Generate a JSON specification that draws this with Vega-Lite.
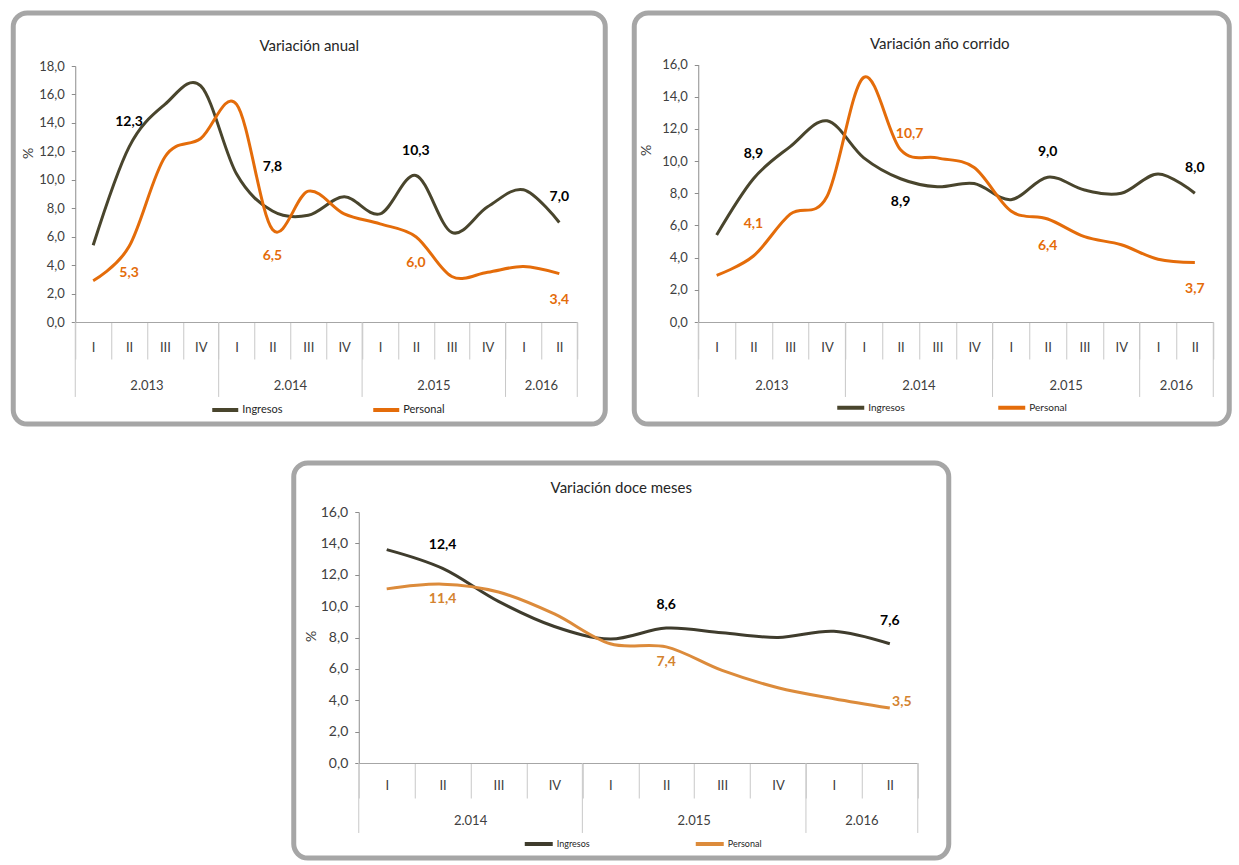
{
  "$schema": "https://vega.github.io/schema/vega-lite/v6.json",
  "background": "white",
  "padding": {"left": 10, "top": 10, "right": 5, "bottom": 5},
  "config": {
    "font": "Lato",
    "locale": {"number": {"decimal": ",", "thousands": ".", "grouping": [3], "currency": ["$", ""]}},
    "view": {"fill": null, "stroke": "#a6a6a6", "strokeWidth": 5, "cornerRadius": 14},
    "axis": {"grid": false, "zindex": 1, "domainColor": "#8c8c8c", "tickColor": "#8c8c8c", "labelFont": "Lato", "labelColor": "#404040", "titleFont": "Lato", "titleColor": "#404040"},
    "legend": {"padding": 0, "labelFont": "Lato", "labelColor": "#262626"},
    "title": {"font": "Lato", "color": "#262626", "fontWeight": "normal"}
  },
  "datasets": {
    "anual": [
      {"serie": "Ingresos", "periodo": "2013-I", "anio": "2.013", "trimestre": "I", "valor": 5.4},
      {"serie": "Ingresos", "periodo": "2013-II", "anio": "2.013", "trimestre": "II", "valor": 12.3},
      {"serie": "Ingresos", "periodo": "2013-III", "anio": "2.013", "trimestre": "III", "valor": 15.3},
      {"serie": "Ingresos", "periodo": "2013-IV", "anio": "2.013", "trimestre": "IV", "valor": 16.6},
      {"serie": "Ingresos", "periodo": "2014-I", "anio": "2.014", "trimestre": "I", "valor": 10.4},
      {"serie": "Ingresos", "periodo": "2014-II", "anio": "2.014", "trimestre": "II", "valor": 7.8},
      {"serie": "Ingresos", "periodo": "2014-III", "anio": "2.014", "trimestre": "III", "valor": 7.5},
      {"serie": "Ingresos", "periodo": "2014-IV", "anio": "2.014", "trimestre": "IV", "valor": 8.8},
      {"serie": "Ingresos", "periodo": "2015-I", "anio": "2.015", "trimestre": "I", "valor": 7.6},
      {"serie": "Ingresos", "periodo": "2015-II", "anio": "2.015", "trimestre": "II", "valor": 10.3},
      {"serie": "Ingresos", "periodo": "2015-III", "anio": "2.015", "trimestre": "III", "valor": 6.3},
      {"serie": "Ingresos", "periodo": "2015-IV", "anio": "2.015", "trimestre": "IV", "valor": 8.1},
      {"serie": "Ingresos", "periodo": "2016-I", "anio": "2.016", "trimestre": "I", "valor": 9.3},
      {"serie": "Ingresos", "periodo": "2016-II", "anio": "2.016", "trimestre": "II", "valor": 7.0},
      {"serie": "Personal", "periodo": "2013-I", "anio": "2.013", "trimestre": "I", "valor": 2.9},
      {"serie": "Personal", "periodo": "2013-II", "anio": "2.013", "trimestre": "II", "valor": 5.3},
      {"serie": "Personal", "periodo": "2013-III", "anio": "2.013", "trimestre": "III", "valor": 11.6},
      {"serie": "Personal", "periodo": "2013-IV", "anio": "2.013", "trimestre": "IV", "valor": 12.9},
      {"serie": "Personal", "periodo": "2014-I", "anio": "2.014", "trimestre": "I", "valor": 15.3},
      {"serie": "Personal", "periodo": "2014-II", "anio": "2.014", "trimestre": "II", "valor": 6.5},
      {"serie": "Personal", "periodo": "2014-III", "anio": "2.014", "trimestre": "III", "valor": 9.2},
      {"serie": "Personal", "periodo": "2014-IV", "anio": "2.014", "trimestre": "IV", "valor": 7.6},
      {"serie": "Personal", "periodo": "2015-I", "anio": "2.015", "trimestre": "I", "valor": 6.9},
      {"serie": "Personal", "periodo": "2015-II", "anio": "2.015", "trimestre": "II", "valor": 6.0},
      {"serie": "Personal", "periodo": "2015-III", "anio": "2.015", "trimestre": "III", "valor": 3.2},
      {"serie": "Personal", "periodo": "2015-IV", "anio": "2.015", "trimestre": "IV", "valor": 3.5},
      {"serie": "Personal", "periodo": "2016-I", "anio": "2.016", "trimestre": "I", "valor": 3.9},
      {"serie": "Personal", "periodo": "2016-II", "anio": "2.016", "trimestre": "II", "valor": 3.4}
    ],
    "corrido": [
      {"serie": "Ingresos", "periodo": "2013-I", "anio": "2.013", "trimestre": "I", "valor": 5.4},
      {"serie": "Ingresos", "periodo": "2013-II", "anio": "2.013", "trimestre": "II", "valor": 8.9},
      {"serie": "Ingresos", "periodo": "2013-III", "anio": "2.013", "trimestre": "III", "valor": 10.9},
      {"serie": "Ingresos", "periodo": "2013-IV", "anio": "2.013", "trimestre": "IV", "valor": 12.5},
      {"serie": "Ingresos", "periodo": "2014-I", "anio": "2.014", "trimestre": "I", "valor": 10.2},
      {"serie": "Ingresos", "periodo": "2014-II", "anio": "2.014", "trimestre": "II", "valor": 8.9},
      {"serie": "Ingresos", "periodo": "2014-III", "anio": "2.014", "trimestre": "III", "valor": 8.4},
      {"serie": "Ingresos", "periodo": "2014-IV", "anio": "2.014", "trimestre": "IV", "valor": 8.6},
      {"serie": "Ingresos", "periodo": "2015-I", "anio": "2.015", "trimestre": "I", "valor": 7.6},
      {"serie": "Ingresos", "periodo": "2015-II", "anio": "2.015", "trimestre": "II", "valor": 9.0},
      {"serie": "Ingresos", "periodo": "2015-III", "anio": "2.015", "trimestre": "III", "valor": 8.2},
      {"serie": "Ingresos", "periodo": "2015-IV", "anio": "2.015", "trimestre": "IV", "valor": 8.0},
      {"serie": "Ingresos", "periodo": "2016-I", "anio": "2.016", "trimestre": "I", "valor": 9.2},
      {"serie": "Ingresos", "periodo": "2016-II", "anio": "2.016", "trimestre": "II", "valor": 8.0},
      {"serie": "Personal", "periodo": "2013-I", "anio": "2.013", "trimestre": "I", "valor": 2.9},
      {"serie": "Personal", "periodo": "2013-II", "anio": "2.013", "trimestre": "II", "valor": 4.1},
      {"serie": "Personal", "periodo": "2013-III", "anio": "2.013", "trimestre": "III", "valor": 6.7},
      {"serie": "Personal", "periodo": "2013-IV", "anio": "2.013", "trimestre": "IV", "valor": 7.8},
      {"serie": "Personal", "periodo": "2014-I", "anio": "2.014", "trimestre": "I", "valor": 15.2},
      {"serie": "Personal", "periodo": "2014-II", "anio": "2.014", "trimestre": "II", "valor": 10.7},
      {"serie": "Personal", "periodo": "2014-III", "anio": "2.014", "trimestre": "III", "valor": 10.2},
      {"serie": "Personal", "periodo": "2014-IV", "anio": "2.014", "trimestre": "IV", "valor": 9.6},
      {"serie": "Personal", "periodo": "2015-I", "anio": "2.015", "trimestre": "I", "valor": 6.9},
      {"serie": "Personal", "periodo": "2015-II", "anio": "2.015", "trimestre": "II", "valor": 6.4},
      {"serie": "Personal", "periodo": "2015-III", "anio": "2.015", "trimestre": "III", "valor": 5.3},
      {"serie": "Personal", "periodo": "2015-IV", "anio": "2.015", "trimestre": "IV", "valor": 4.8},
      {"serie": "Personal", "periodo": "2016-I", "anio": "2.016", "trimestre": "I", "valor": 3.9},
      {"serie": "Personal", "periodo": "2016-II", "anio": "2.016", "trimestre": "II", "valor": 3.7}
    ],
    "doce": [
      {"serie": "Ingresos", "periodo": "2014-I", "anio": "2.014", "trimestre": "I", "valor": 13.6},
      {"serie": "Ingresos", "periodo": "2014-II", "anio": "2.014", "trimestre": "II", "valor": 12.4},
      {"serie": "Ingresos", "periodo": "2014-III", "anio": "2.014", "trimestre": "III", "valor": 10.3},
      {"serie": "Ingresos", "periodo": "2014-IV", "anio": "2.014", "trimestre": "IV", "valor": 8.7},
      {"serie": "Ingresos", "periodo": "2015-I", "anio": "2.015", "trimestre": "I", "valor": 7.9},
      {"serie": "Ingresos", "periodo": "2015-II", "anio": "2.015", "trimestre": "II", "valor": 8.6},
      {"serie": "Ingresos", "periodo": "2015-III", "anio": "2.015", "trimestre": "III", "valor": 8.3},
      {"serie": "Ingresos", "periodo": "2015-IV", "anio": "2.015", "trimestre": "IV", "valor": 8.0},
      {"serie": "Ingresos", "periodo": "2016-I", "anio": "2.016", "trimestre": "I", "valor": 8.4},
      {"serie": "Ingresos", "periodo": "2016-II", "anio": "2.016", "trimestre": "II", "valor": 7.6},
      {"serie": "Personal", "periodo": "2014-I", "anio": "2.014", "trimestre": "I", "valor": 11.1},
      {"serie": "Personal", "periodo": "2014-II", "anio": "2.014", "trimestre": "II", "valor": 11.4},
      {"serie": "Personal", "periodo": "2014-III", "anio": "2.014", "trimestre": "III", "valor": 10.9},
      {"serie": "Personal", "periodo": "2014-IV", "anio": "2.014", "trimestre": "IV", "valor": 9.5},
      {"serie": "Personal", "periodo": "2015-I", "anio": "2.015", "trimestre": "I", "valor": 7.6},
      {"serie": "Personal", "periodo": "2015-II", "anio": "2.015", "trimestre": "II", "valor": 7.4},
      {"serie": "Personal", "periodo": "2015-III", "anio": "2.015", "trimestre": "III", "valor": 5.9},
      {"serie": "Personal", "periodo": "2015-IV", "anio": "2.015", "trimestre": "IV", "valor": 4.8},
      {"serie": "Personal", "periodo": "2016-I", "anio": "2.016", "trimestre": "I", "valor": 4.1},
      {"serie": "Personal", "periodo": "2016-II", "anio": "2.016", "trimestre": "II", "valor": 3.5}
    ]
  },
  "vconcat": [
    {
      "hconcat": [
        {
          "width": 592, "height": 411,
          "title": {"text": "Variación anual", "offset": -53, "fontSize": 15, "baseline": "alphabetic", "anchor": "middle"},
          "data": {"name": "anual"},
          "layer": [
            {
              "mark": {"type": "line", "interpolate": "cardinal", "strokeWidth": 3},
              "encoding": {
                "x": {"field": "periodo", "type": "ordinal", "sort": null, "bandPosition": 0.5,
                  "scale": {"type": "band", "range": [62, 564], "paddingInner": 0, "paddingOuter": 0},
                  "axis": {"title": null, "labelExpr": "split(datum.value, '-')[1]", "tickBand": "extent", "tickSize": 37, "tickColor": "#c8c8c8", "domainColor": "#a6a6a6", "labelPadding": -18, "labelAngle": 0, "offset": -102, "labelFontSize": 13}},
                "y": {"field": "valor", "type": "quantitative",
                  "scale": {"domain": [0, 18], "range": [309, 53], "nice": false, "zero": false},
                  "axis": {"title": "%", "values": [0, 2, 4, 6, 8, 10, 12, 14, 16, 18], "format": ".1f", "offset": -62, "tickSize": 4, "labelPadding": 7, "titleX": -40, "titleY": 140, "titleFontWeight": "normal", "titleFontSize": 14, "labelFontSize": 13}},
                "color": {"field": "serie", "type": "nominal",
                  "scale": {"domain": ["Ingresos", "Personal"], "range": ["#49452d", "#e46c0a"]},
                  "legend": {"orient": "none", "legendX": 197, "legendY": 382, "direction": "horizontal", "title": null, "symbolType": "stroke", "symbolSize": 676, "symbolStrokeWidth": 4, "columnPadding": 82, "labelFontSize": 11, "labelOffset": 2}}
              }
            },
            {
              "transform": [{"filter": "datum.serie == 'Ingresos' && datum.trimestre == 'I'"}],
              "mark": {"type": "rule", "color": "#c8c8c8", "strokeWidth": 1},
              "encoding": {
                "x": {"field": "periodo", "type": "ordinal", "bandPosition": 0},
                "y": {"datum": 0},
                "y2": {"datum": -5.27}
              }
            },
            {
              "transform": [{"filter": "datum.serie == 'Ingresos' && datum.periodo == '2016-II'"}],
              "mark": {"type": "rule", "color": "#c8c8c8", "strokeWidth": 1},
              "encoding": {
                "x": {"field": "periodo", "type": "ordinal", "bandPosition": 1},
                "y": {"datum": 0},
                "y2": {"datum": -5.27}
              }
            },
            {
              "transform": [{"filter": "datum.serie == 'Ingresos' && (datum.trimestre == 'III' || datum.periodo == '2016-II')"}],
              "mark": {"type": "text", "baseline": "middle", "fontSize": 13, "color": "#404040"},
              "encoding": {
                "x": {"field": "periodo", "type": "ordinal", "bandPosition": 0},
                "y": {"datum": -4.5},
                "text": {"field": "anio"}
              }
            },
            {
              "transform": [{"filter": "datum.trimestre == 'II'"}],
              "mark": {"type": "text", "baseline": "middle", "fontSize": 14, "fontWeight": "bold",
                "dy": {"expr": "datum.serie == 'Ingresos' ? (datum.periodo == '2014-II' ? -44 : -25) : 26"}},
              "encoding": {
                "x": {"field": "periodo", "type": "ordinal", "bandPosition": 0.5},
                "y": {"field": "valor", "type": "quantitative"},
                "text": {"field": "valor", "type": "quantitative", "format": ".1f"},
                "color": {"condition": {"test": "datum.serie == 'Ingresos'", "value": "#000000"}, "value": "#e46c0a"}
              }
            }
          ]
        },
        {
          "width": 595, "height": 411,
          "title": {"text": "Variación año corrido", "offset": -51, "fontSize": 15, "baseline": "alphabetic", "anchor": "middle", "dx": 8},
          "data": {"name": "corrido"},
          "layer": [
            {
              "mark": {"type": "line", "interpolate": "cardinal", "strokeWidth": 3},
              "encoding": {
                "x": {"field": "periodo", "type": "ordinal", "sort": null, "bandPosition": 0.5,
                  "scale": {"type": "band", "range": [64, 579], "paddingInner": 0, "paddingOuter": 0},
                  "axis": {"title": null, "labelExpr": "split(datum.value, '-')[1]", "tickBand": "extent", "tickSize": 37, "tickColor": "#c8c8c8", "domainColor": "#a6a6a6", "labelPadding": -18, "labelAngle": 0, "offset": -102, "labelFontSize": 13}},
                "y": {"field": "valor", "type": "quantitative",
                  "scale": {"domain": [0, 16], "range": [309, 51.5], "nice": false, "zero": false},
                  "axis": {"title": "%", "values": [0, 2, 4, 6, 8, 10, 12, 14, 16], "format": ".1f", "offset": -64, "tickSize": 4, "labelPadding": 7, "titleX": -45, "titleY": 137, "titleFontWeight": "normal", "titleFontSize": 14, "labelFontSize": 13}},
                "color": {"field": "serie", "type": "nominal",
                  "scale": {"domain": ["Ingresos", "Personal"], "range": ["#49452d", "#e46c0a"]},
                  "legend": {"orient": "none", "legendX": 201, "legendY": 379, "direction": "horizontal", "title": null, "symbolType": "stroke", "symbolSize": 729, "symbolStrokeWidth": 4, "columnPadding": 85, "labelFontSize": 10, "labelOffset": 2}}
              }
            },
            {
              "transform": [{"filter": "datum.serie == 'Ingresos' && datum.trimestre == 'I'"}],
              "mark": {"type": "rule", "color": "#c8c8c8", "strokeWidth": 1},
              "encoding": {
                "x": {"field": "periodo", "type": "ordinal", "bandPosition": 0},
                "y": {"datum": 0},
                "y2": {"datum": -4.66}
              }
            },
            {
              "transform": [{"filter": "datum.serie == 'Ingresos' && datum.periodo == '2016-II'"}],
              "mark": {"type": "rule", "color": "#c8c8c8", "strokeWidth": 1},
              "encoding": {
                "x": {"field": "periodo", "type": "ordinal", "bandPosition": 1},
                "y": {"datum": 0},
                "y2": {"datum": -4.66}
              }
            },
            {
              "transform": [{"filter": "datum.serie == 'Ingresos' && (datum.trimestre == 'III' || datum.periodo == '2016-II')"}],
              "mark": {"type": "text", "baseline": "middle", "fontSize": 13, "color": "#404040"},
              "encoding": {
                "x": {"field": "periodo", "type": "ordinal", "bandPosition": 0},
                "y": {"datum": -3.98},
                "text": {"field": "anio"}
              }
            },
            {
              "transform": [{"filter": "datum.trimestre == 'II'"}],
              "mark": {"type": "text", "baseline": "middle", "fontSize": 14, "fontWeight": "bold",
                "dy": {"expr": "datum.serie == 'Ingresos' ? (datum.periodo == '2014-II' ? 23 : -25) : (datum.periodo == '2013-II' ? -32 : (datum.periodo == '2014-II' ? -16 : 27))"},
                "dx": {"expr": "datum.serie == 'Personal' && datum.periodo == '2014-II' ? 9 : 0"}},
              "encoding": {
                "x": {"field": "periodo", "type": "ordinal", "bandPosition": 0.5},
                "y": {"field": "valor", "type": "quantitative"},
                "text": {"field": "valor", "type": "quantitative", "format": ".1f"},
                "color": {"condition": {"test": "datum.serie == 'Ingresos'", "value": "#000000"}, "value": "#e46c0a"}
              }
            }
          ]
        }
      ],
      "spacing": 23,
      "resolve": {"scale": {"color": "independent"}, "legend": {"color": "independent"}}
    },
    {
      "width": 655, "height": 395,
      "title": {"text": "Variación doce meses", "offset": -45, "fontSize": 15, "baseline": "alphabetic", "anchor": "middle"},
      "data": {"name": "doce"},
      "layer": [
        {
          "mark": {"type": "line", "interpolate": "cardinal", "strokeWidth": 3},
          "encoding": {
            "x": {"field": "periodo", "type": "ordinal", "sort": null, "bandPosition": 0.5,
              "scale": {"type": "band", "range": [65, 624], "paddingInner": 0, "paddingOuter": 0},
              "axis": {"title": null, "labelExpr": "split(datum.value, '-')[1]", "tickBand": "extent", "tickSize": 35, "tickColor": "#c8c8c8", "domainColor": "#a6a6a6", "labelPadding": -19, "labelAngle": 0, "offset": -95, "labelFontSize": 13}},
            "y": {"field": "valor", "type": "quantitative",
              "scale": {"domain": [0, 16], "range": [300, 49], "nice": false, "zero": false},
              "axis": {"title": "%", "values": [0, 2, 4, 6, 8, 10, 12, 14, 16], "format": ".1f", "offset": -65, "tickSize": 4, "labelPadding": 7, "titleX": -40, "titleY": 173, "titleFontWeight": "normal", "titleFontSize": 14, "labelFontSize": 14}},
            "color": {"field": "serie", "type": "nominal",
              "scale": {"domain": ["Ingresos", "Personal"], "range": ["#3f3c2d", "#dc8b3b"]},
              "legend": {"orient": "none", "legendX": 229, "legendY": 365, "direction": "horizontal", "title": null, "symbolType": "stroke", "symbolSize": 784, "symbolStrokeWidth": 4, "columnPadding": 98, "labelFontSize": 9, "labelOffset": 2}}
          }
        },
        {
          "transform": [{"filter": "datum.serie == 'Ingresos' && datum.trimestre == 'I'"}],
          "mark": {"type": "rule", "color": "#c8c8c8", "strokeWidth": 1},
          "encoding": {
            "x": {"field": "periodo", "type": "ordinal", "bandPosition": 0},
            "y": {"datum": 0},
            "y2": {"datum": -4.46}
          }
        },
        {
          "transform": [{"filter": "datum.serie == 'Ingresos' && datum.periodo == '2016-II'"}],
          "mark": {"type": "rule", "color": "#c8c8c8", "strokeWidth": 1},
          "encoding": {
            "x": {"field": "periodo", "type": "ordinal", "bandPosition": 1},
            "y": {"datum": 0},
            "y2": {"datum": -4.46}
          }
        },
        {
          "transform": [{"filter": "datum.serie == 'Ingresos' && (datum.trimestre == 'III' || datum.periodo == '2016-II')"}],
          "mark": {"type": "text", "baseline": "middle", "fontSize": 13, "color": "#404040"},
          "encoding": {
            "x": {"field": "periodo", "type": "ordinal", "bandPosition": 0},
            "y": {"datum": -3.7},
            "text": {"field": "anio"}
          }
        },
        {
          "transform": [{"filter": "datum.trimestre == 'II'"}],
          "mark": {"type": "text", "baseline": "middle", "fontSize": 14, "fontWeight": "bold",
            "dy": {"expr": "datum.serie == 'Ingresos' ? -23 : (datum.periodo == '2016-II' ? -6 : 15)"},
            "dx": {"expr": "datum.serie == 'Personal' && datum.periodo == '2016-II' ? 12 : 0"}},
          "encoding": {
            "x": {"field": "periodo", "type": "ordinal", "bandPosition": 0.5},
            "y": {"field": "valor", "type": "quantitative"},
            "text": {"field": "valor", "type": "quantitative", "format": ".1f"},
            "color": {"condition": {"test": "datum.serie == 'Ingresos'", "value": "#000000"}, "value": "#d4832f"}
          }
        }
      ]
    }
  ],
  "spacing": 33,
  "center": true,
  "resolve": {"scale": {"color": "independent"}, "legend": {"color": "independent"}}
}
